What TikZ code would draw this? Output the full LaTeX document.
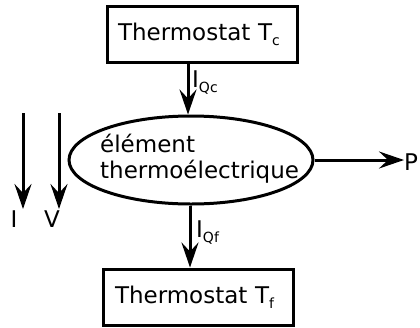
\documentclass[tikz,border=0pt]{standalone}
\usepackage{fontspec}
\setmainfont{DejaVu Sans}
\usetikzlibrary{arrows.meta,shapes.geometric}
\newcommand{\mysub}[1]{\raisebox{-5pt}{\fontsize{14}{14}\selectfont #1}}
\begin{document}
\begin{tikzpicture}[x=1pt,y=-1pt,
  lw/.style={line width=3pt},
  arr/.style={lw,-{Stealth[length=25pt,width=17pt,inset=9pt]}},
  box/.style={draw,lw,rectangle,minimum height=56pt,text width=168pt,inner xsep=11pt,align=left,font=\fontsize{23}{27}\selectfont},
  txt/.style={inner sep=0pt,font=\fontsize{23}{27}\selectfont}]
\useasboundingbox (0,0) rectangle (420,327);
\node[box] (tc) at (202,34) {Thermostat T\mysub{c}};
\node[box,inner xsep=12pt,text width=166pt] (tf) at (198,297) {Thermostat T\mysub{f}};
\node[draw,lw,ellipse,minimum width=244pt,minimum height=88pt,inner sep=0pt] (elem) at (191,160) {};
\node[txt,anchor=base west,align=left] (elemtext) at (100,178) {élément\\[-1pt]thermoélectrique};
\draw[arr] (tc.south -| 188,0) -- (elem.north -| 188,0);
\draw[arr] (elem.south -| 190,0) -- (tf.north -| 190,0);
\node[txt,anchor=base west] (iqc) at (192,87) {I\mysub{Qc}};
\node[txt,anchor=base west] (iqf) at (196,237) {I\mysub{Qf}};
\node[txt,anchor=base west] (p) at (404,170) {P};
\draw[arr] (elem.east) -- (elem.east -| p.west);
\coordinate (itop) at (23,113);
\coordinate (vtop) at (59,113);
\node[txt,anchor=base] (i) at (14,227) {I};
\node[txt,anchor=base] (v) at (52,227) {V};
\draw[arr] (itop) -- (23,209);
\draw[arr] (vtop) -- (59,209);
\end{tikzpicture}
\end{document}
